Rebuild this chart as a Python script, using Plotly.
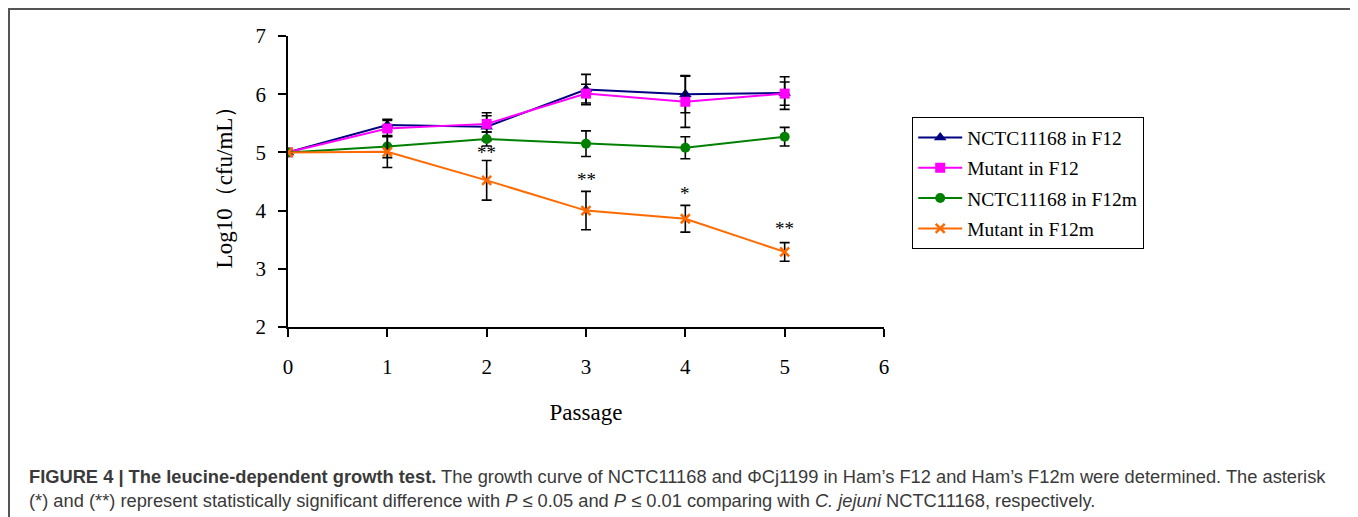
import plotly.graph_objects as go

passage = [0, 1, 2, 3, 4, 5]
nctc_f12 = [5.0, 5.47, 5.44, 6.08, 6.00, 6.02]
nctc_f12_err = [0.0, 0.10, 0.24, 0.26, 0.32, 0.28]
mutant_f12 = [5.0, 5.41, 5.49, 6.01, 5.87, 6.01]
mutant_f12_err = [0.0, 0.14, 0.14, 0.16, 0.44, 0.20]
nctc_f12m = [5.0, 5.10, 5.23, 5.15, 5.08, 5.27]
nctc_f12m_err = [0.0, 0.19, 0.12, 0.22, 0.19, 0.16]
mutant_f12m = [5.0, 5.01, 4.52, 4.00, 3.86, 3.29]
mutant_f12m_err = [0.0, 0.27, 0.34, 0.33, 0.23, 0.16]

sig_x = [2, 3, 4, 5]
sig_y = [4.99, 4.53, 4.30, 3.70]
sig_labels = ["**", "**", "*", "**"]

x_ticks = [0, 1, 2, 3, 4, 5, 6]
y_ticks = [2, 3, 4, 5, 6, 7]

series = [
    ("NCTC11168 in F12", nctc_f12, nctc_f12_err, "#000080", "triangle-up", 11),
    ("Mutant in F12", mutant_f12, mutant_f12_err, "#FF00FF", "square", 10),
    ("NCTC11168 in F12m", nctc_f12m, nctc_f12m_err, "#008000", "circle", 10),
    ("Mutant in F12m", mutant_f12m, mutant_f12m_err, "#FF6A00", "x-thin", 9),
]

OFF = 8  # page body margin
W, H = 1358 - OFF, 517 - OFF
L, R, T, B = 288 - OFF, 884 - OFF, 36 - OFF, 327 - OFF


def px(x):
    return (x - OFF - L) / (R - L)


def py(y):
    return (B - (y - OFF)) / (B - T)


fig = go.Figure()
for i, (name, vals, errs, color, sym, size) in enumerate(series):
    marker = dict(symbol=sym, size=size, color=color)
    if sym == "x-thin":
        marker["line"] = dict(color=color, width=2.5)
    fig.add_trace(go.Scatter(
        x=passage, y=vals, name=name, mode="lines+markers",
        line=dict(color=color, width=2),
        marker=marker,
        error_y=dict(type="data", array=errs, visible=True,
                     color="black", thickness=1.6, width=5),
        legendgroup=f"g{i}",
    ))

serif = "Liberation Serif, Times New Roman, serif"

annotations = []
for xv, yv, lab in zip(sig_x, sig_y, sig_labels):
    annotations.append(dict(x=xv, y=yv, text=lab, showarrow=False,
                            font=dict(family=serif, size=19, color="black"),
                            xref="x", yref="y"))

cap_font = dict(family="Liberation Sans, Arial, sans-serif", size=18.3, color="#3a3a3a")
annotations.append(dict(
    x=px(27), y=py(476), xref="paper", yref="paper", xanchor="left", yanchor="middle",
    showarrow=False, font=cap_font,
    text="<b>FIGURE 4 | The leucine-dependent growth test.</b> The growth curve of NCTC11168 and \u03a6Cj1199 in Ham\u2019s F12 and Ham\u2019s F12m were determined. The asterisk"))
annotations.append(dict(
    x=px(27), y=py(500), xref="paper", yref="paper", xanchor="left", yanchor="middle",
    showarrow=False, font=cap_font,
    text="(*) and (**) represent statistically significant difference with <i>P</i> \u2264 0.05 and <i>P</i> \u2264 0.01 comparing with <i>C. jejuni</i> NCTC11168, respectively."))

shapes = [dict(type="rect", xref="paper", yref="paper",
               x0=px(9), x1=px(1355), y0=py(9), y1=py(540),
               line=dict(color="#555555", width=2), fillcolor="rgba(0,0,0,0)", layer="below")]

fig.update_layout(
    width=W, height=H,
    margin=dict(l=L, r=W - R, t=T, b=H - B, pad=0),
    paper_bgcolor="white", plot_bgcolor="white",
    font=dict(family=serif, color="black"),
    showlegend=True,
    legend=dict(x=px(912), y=py(117), xanchor="left", yanchor="top",
                bordercolor="black", borderwidth=1.2, bgcolor="white",
                font=dict(family=serif, size=19.5, color="black"),
                tracegroupgap=2, traceorder="grouped", itemwidth=44),
    xaxis=dict(range=[0, 6], tickvals=x_ticks, ticktext=[str(v) for v in x_ticks],
               showline=True, linecolor="black", linewidth=1.5,
               ticks="outside", ticklen=8, tickcolor="black", tickwidth=1.5,
               showgrid=False, zeroline=False, ticklabelstandoff=12,
               tickfont=dict(family=serif, size=21, color="black"),
               title=dict(text="Passage", font=dict(family=serif, size=23, color="black"), standoff=26)),
    yaxis=dict(range=[2, 7], tickvals=y_ticks, ticktext=[str(v) for v in y_ticks],
               showline=True, linecolor="black", linewidth=1.5,
               ticks="outside", ticklen=8, tickcolor="black", tickwidth=1.5,
               showgrid=False, zeroline=False, ticklabelstandoff=8,
               tickfont=dict(family=serif, size=21, color="black"),
               title=dict(text="Log10\uff08cfu/mL\uff09", font=dict(family=serif, size=23, color="black"), standoff=16)),
    annotations=annotations,
    shapes=shapes,
)

fig.write_html("out.html")
